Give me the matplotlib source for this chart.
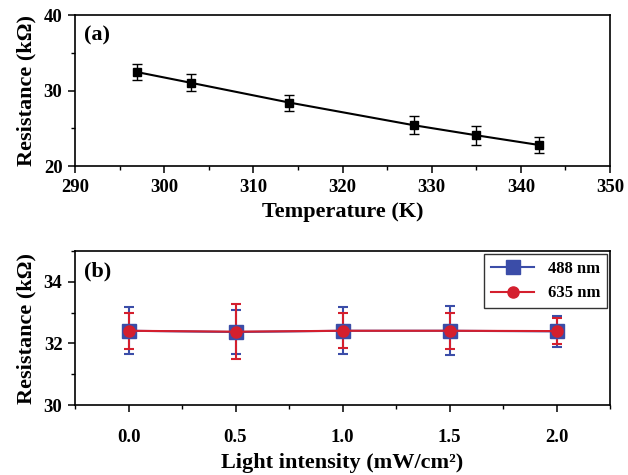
import matplotlib
matplotlib.use("Agg")
import matplotlib.pyplot as plt
from matplotlib.ticker import MultipleLocator
from matplotlib.lines import Line2D

# ---- data ----
temperature = [297, 303, 314, 328, 335, 342]
resistance_T = [32.43, 31.02, 28.41, 25.40, 24.07, 22.79]
resistance_T_err = [1.08, 1.10, 1.06, 1.20, 1.28, 1.11]

intensity = [0.0, 0.5, 1.0, 1.5, 2.0]
res_488 = [32.41, 32.37, 32.41, 32.41, 32.39]
err_488 = [0.77, 0.73, 0.77, 0.80, 0.50]
res_635 = [32.41, 32.38, 32.41, 32.41, 32.40]
err_635 = [0.58, 0.89, 0.57, 0.58, 0.41]

labels_b = ["488 nm", "635 nm"]

plt.rcParams['font.family'] = ['Liberation Serif', 'DejaVu Serif']
plt.rcParams['font.weight'] = 'bold'

fig = plt.figure(figsize=(6.28, 4.75), dpi=100)
W, H = 628, 475

def add_ax(l, r, t, b):
    return fig.add_axes([l / W, 1 - b / H, (r - l) / W, (b - t) / H])

ax1 = add_ax(75, 610, 15, 166)
ax2 = add_ax(75, 610, 251, 405)

# ---- panel (a) ----
ax1.errorbar(temperature, resistance_T, yerr=resistance_T_err, color='black',
             marker='s', markersize=6, linewidth=1.5, capsize=3.3,
             elinewidth=1.0, capthick=1.0)
ax1.set_xlim(290, 350)
ax1.set_ylim(20, 40)
ax1.xaxis.set_major_locator(MultipleLocator(10))
ax1.xaxis.set_minor_locator(MultipleLocator(5))
ax1.yaxis.set_major_locator(MultipleLocator(10))
ax1.yaxis.set_minor_locator(MultipleLocator(5))

# ---- panel (b) ----
blue = '#3B4DA8'
red = '#D41F2E'
ax2.errorbar(intensity, res_488, yerr=err_488, color=blue, marker='s',
             markersize=10, linewidth=1.5, capsize=3.6, elinewidth=1.5,
             capthick=1.5)
ax2.errorbar(intensity, res_635, yerr=err_635, color=red, marker='o',
             markersize=8, linewidth=1.5, capsize=3.6, elinewidth=1.5,
             capthick=1.5)
ax2.set_xlim(-0.25, 2.25)
ax2.set_ylim(30, 35)
ax2.xaxis.set_major_locator(MultipleLocator(0.5))
ax2.xaxis.set_minor_locator(MultipleLocator(0.25))
ax2.yaxis.set_major_locator(MultipleLocator(2))
ax2.yaxis.set_minor_locator(MultipleLocator(1))
ax2.set_xticks(intensity)
ax2.set_xticklabels([f"{v:.1f}" for v in intensity])

handles = [Line2D([], [], color=blue, marker='s', markersize=10, linewidth=1.5),
           Line2D([], [], color=red, marker='o', markersize=8, linewidth=1.5)]
leg = ax2.legend(handles, labels_b, loc='upper right', fancybox=False,
                 edgecolor='black', handlelength=2.6, borderaxespad=0.2,
                 prop={'weight': 'bold', 'size': 12})
leg.get_frame().set_linewidth(1.0)

for ax in (ax1, ax2):
    for s in ax.spines.values():
        s.set_linewidth(1.2)
    ax.tick_params(which='major', direction='out', length=5, width=1.1,
                   labelsize=13.5, top=False, right=False, pad=4)
    ax.tick_params(which='minor', direction='out', length=3, width=1.0,
                   top=False, right=False)
    ax.set_ylabel('Resistance (k\u03a9)', fontsize=16, fontweight='bold',
                  labelpad=5)
    for lab in ax.get_xticklabels() + ax.get_yticklabels():
        lab.set_fontweight('bold')

ax2.tick_params(axis='x', which='major', pad=12)

ax1.set_xlabel('Temperature (K)', fontsize=16, fontweight='bold', labelpad=5)
ax2.set_xlabel('Light intensity (mW/cm\u00b2)', fontsize=16, fontweight='bold',
               labelpad=5)
ax1.text(0.017, 0.93, '(a)', transform=ax1.transAxes, fontsize=16,
         fontweight='bold', va='top', ha='left')
ax2.text(0.017, 0.93, '(b)', transform=ax2.transAxes, fontsize=16,
         fontweight='bold', va='top', ha='left')

fig.savefig('out.png', dpi=100)
